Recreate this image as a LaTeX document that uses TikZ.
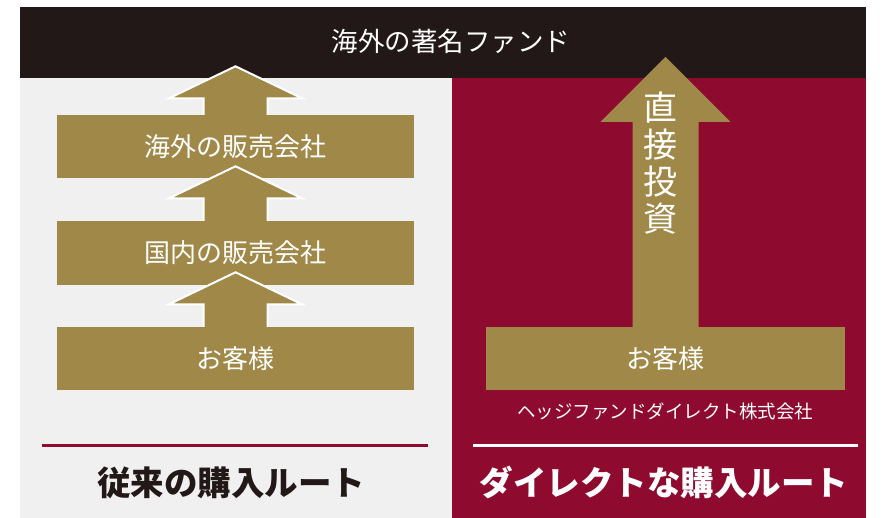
\documentclass[tikz,border=0pt]{standalone}
\usepackage{fontspec}
\setmainfont{Noto Sans CJK JP}
\usetikzlibrary{calc}

\definecolor{fundblack}{RGB}{33,24,23}
\definecolor{routered}{RGB}{143,10,47}
\definecolor{gold}{RGB}{160,137,72}
\definecolor{panelgray}{RGB}{240,240,240}

\tikzset{
  goldbox/.style={fill=gold, inner sep=0pt, minimum height=63pt, text=white,
    font=\fontsize{26}{26}\selectfont},
  routelabel/.style={inner sep=0pt, font=\fontsize{33.5}{33.5}\selectfont\bfseries},
  outline/.style={draw=white, line width=2pt, line join=miter},
}

% block arrow standing on (#1): shaft half width, wing half width, wing rise, tip rise
\newcommand{\liftarrow}[6]{%
  \fill[gold] ($(#1)+(-#2,0)$) -- ++(0,-#4) -- ($(#1)+(-#3,-#4)$)
    -- ($(#1)+(0,-#5)$) -- ($(#1)+(#3,-#4)$) -- ($(#1)+(#2,-#4)$)
    -- ($(#1)+(#2,0)$) -- cycle;
  \draw[#6] ($(#1)+(-#2,0)$) -- ++(0,-#4) -- ($(#1)+(-#3,-#4)$)
    -- ($(#1)+(0,-#5)$) -- ($(#1)+(#3,-#4)$) -- ($(#1)+(#2,-#4)$)
    -- ($(#1)+(#2,0)$);
}

\begin{document}
\begin{tikzpicture}[x=1pt, y=-1pt]
  \useasboundingbox (0,0) rectangle (884,518);

  % panels
  \fill[panelgray] (20,78) rectangle (452,518);
  \fill[routered] (452,78) rectangle (866,518);
  \node[fill=fundblack, inner sep=0pt, minimum width=846pt, minimum height=71pt,
    text=white, font=\fontsize{26.5}{26.5}\selectfont] (fund) at (443,42.5) {};
  \node[inner sep=0pt, text=white, font=\fontsize{26.5}{26.5}\selectfont]
    (fundname) at (451,41) {海外の著名ファンド};

  % conventional route
  \node[goldbox, minimum width=357pt] (overseas) at (235.5,146.5) {海外の販売会社};
  \node[goldbox, minimum width=357pt, minimum height=64pt] (domestic) at (235.5,253) {国内の販売会社};
  \node[goldbox, minimum width=357pt] (client) at (235.5,358.5) {お客様};
  \liftarrow{overseas.north}{32}{66.5}{16.5}{48.5}{outline}
  \liftarrow{domestic.north}{32}{66.5}{22.5}{54.5}{outline}
  \liftarrow{client.north}{32}{66.5}{22.5}{54.5}{outline}

  % direct route
  \node[goldbox, minimum width=359pt] (directclient) at (665.5,358.5) {お客様};
  \liftarrow{directclient.north}{33}{65}{205}{270}{draw=none}
  \node[inner sep=0pt, align=center, text=white, font=\fontsize{34}{37}\selectfont]
    (invest) at (660,163) {直\\接\\投\\資};
  \node[inner sep=0pt, text=white, font=\fontsize{18.5}{18.5}\selectfont]
    (company) at (665,411) {ヘッジファンドダイレクト株式会社};

  % route labels
  \coordinate (rulel) at (42,445.5);
  \coordinate (ruler) at (428,445.5);
  \coordinate (rule2l) at (473,445.5);
  \coordinate (rule2r) at (858,445.5);
  \draw[routered, line width=2.5pt] (rulel) -- (ruler);
  \draw[white, line width=2.5pt] (rule2l) -- (rule2r);
  \node[routelabel, text=fundblack] (oldroute) at (231,483) {従来の購入ルート};
  \node[routelabel, text=white] (newroute) at (664,483) {ダイレクトな購入ルート};
\end{tikzpicture}
\end{document}
